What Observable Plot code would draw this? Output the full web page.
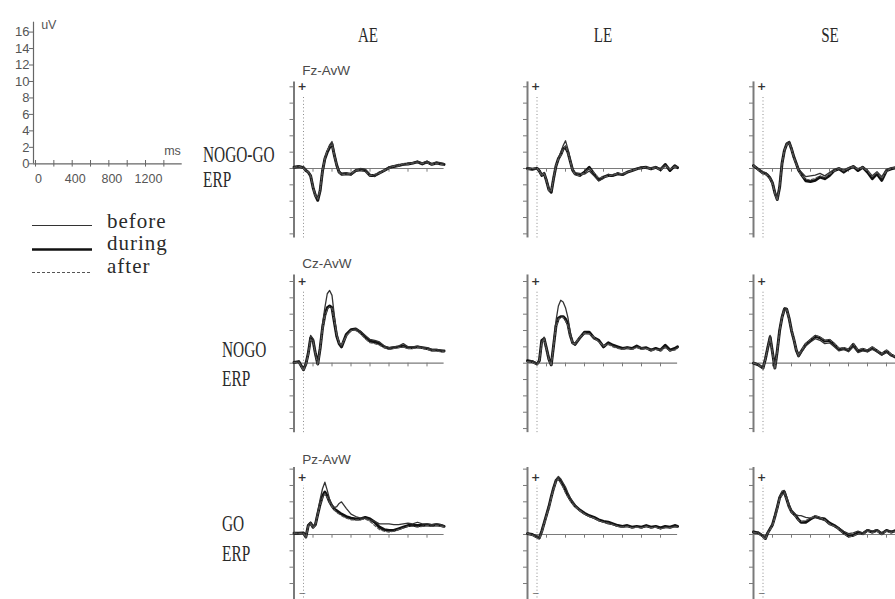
<!DOCTYPE html>
<html>
<head>
<meta charset="utf-8">
<script src="https://cdn.jsdelivr.net/npm/d3@7"></script>
<script src="https://cdn.jsdelivr.net/npm/@observablehq/plot@0.6"></script>
<style>
  html, body { margin: 0; padding: 0; background: #fff; }
  #page { position: relative; width: 895px; height: 599px; overflow: hidden; background: #fff; }
  .lbl { position: absolute; font-family: "Liberation Serif", "Times New Roman", serif; color: #2a2a2a; white-space: nowrap; }
</style>
</head>
<body>
<div id="page"></div>
<script>
// ---- sampling times (ms after stimulus onset) ----
const times = [-100,-50,0,25,50,75,100,125,150,175,200,225,250,275,300,325,350,375,400,
  450,500,550,600,650,700,750,800,850,900,950,1000,1050,1100,1150,1200,1250,1300,1350,1400,1450,1480];

// ---- NOGO-GO difference waves at Fz (uV) ----
const fzAeBefore = [0.2,0.1,0.2,-0.1,-0.5,-1.0,-2.1,-3.1,-3.8,-2.9,-0.5,1.0,2.1,2.9,3.3,1.9,0.5,-0.3,-0.6,-0.5,-0.8,-0.3,0.0,-0.1,-0.7,-1.0,-0.4,-0.3,0.2,0.3,0.5,0.4,0.7,0.6,0.9,0.7,0.9,0.6,0.8,0.7,0.6];
const fzAeDuring = [0.15,0.25,0.1,-0.25,-0.45,-0.9,-2.3,-3.3,-3.9,-2.7,-0.3,1.2,2.0,2.6,3.0,1.6,0.4,-0.45,-0.7,-0.65,-0.7,-0.25,-0.15,-0.25,-0.85,-0.85,-0.55,-0.25,0.1,0.25,0.35,0.5,0.55,0.65,0.8,0.55,0.8,0.5,0.65,0.55,0.5];
const fzAeAfter  = [0.1,0.3,0.0,-0.3,-0.4,-0.8,-2.4,-3.4,-3.7,-2.5,-0.2,1.3,2.2,2.7,2.9,1.5,0.3,-0.5,-0.8,-0.7,-0.6,-0.2,-0.2,-0.4,-0.9,-0.7,-0.6,-0.2,0.0,0.3,0.3,0.6,0.5,0.7,0.7,0.6,0.7,0.5,0.6,0.5,0.4];

const fzLeBefore = [0.1,0.0,-0.1,-0.2,-0.7,-0.7,-1.3,-2.4,-2.8,-1.4,0.2,1.3,2.0,2.8,3.4,2.4,1.1,0.0,-0.5,-0.6,-0.7,-0.3,-0.9,-1.5,-1.2,-0.7,-0.9,-0.5,-0.8,-0.4,-0.3,0.0,0.2,0.0,0.1,0.2,0.0,0.4,-0.1,0.3,0.2];
const fzLeDuring = [0.0,-0.1,0.05,-0.3,-0.85,-0.6,-1.5,-2.6,-2.9,-1.2,0.3,1.2,1.7,2.4,2.6,2.0,0.9,-0.2,-0.65,-0.85,-0.45,0.15,-0.65,-1.4,-1.05,-0.85,-0.85,-0.65,-0.75,-0.45,-0.25,-0.05,0.1,0.15,-0.05,0.15,-0.15,0.5,-0.25,0.35,0.1];
const fzLeAfter  = [-0.1,0.0,0.1,-0.4,-0.9,-0.5,-1.6,-2.7,-2.8,-1.1,0.4,1.1,1.6,2.3,2.8,1.9,0.8,-0.3,-0.7,-0.9,-0.5,0.0,-0.5,-1.2,-1.0,-1.0,-0.7,-0.7,-0.6,-0.5,-0.2,-0.1,0.0,0.2,-0.1,0.1,-0.2,0.3,-0.1,0.2,0.0];

const fzSeBefore = [0.3,0.0,-0.4,-0.5,-0.7,-1.0,-1.6,-2.8,-3.6,-2.4,0.4,2.0,3.1,3.3,2.6,1.5,0.7,0.0,-0.4,-1.0,-0.9,-0.8,-0.6,-0.9,-0.5,-0.1,0.1,-0.2,0.1,0.3,0.0,0.2,-0.2,-0.9,-0.4,-1.0,-0.1,0.1,0.2,0.1,0.3];
const fzSeDuring = [0.35,-0.1,-0.55,-0.6,-0.85,-1.2,-1.8,-3.0,-3.8,-2.3,0.6,2.2,3.0,3.2,2.4,1.4,0.6,-0.2,-0.65,-1.5,-1.6,-1.45,-1.05,-1.25,-0.85,-0.25,-0.05,-0.45,-0.05,0.25,-0.25,0.15,-0.45,-1.25,-0.65,-1.45,-0.25,-0.05,0.1,0.0,0.2];
const fzSeAfter  = [0.4,-0.2,-0.6,-0.7,-0.9,-1.3,-1.9,-3.1,-3.9,-2.2,0.7,2.3,2.9,3.1,2.3,1.3,0.5,-0.3,-0.8,-1.3,-1.4,-1.2,-0.9,-1.1,-0.7,-0.3,0.0,-0.3,0.0,0.2,-0.1,0.1,-0.3,-1.0,-0.5,-1.2,-0.3,0.0,0.1,-0.1,0.1];

// ---- NOGO ERPs at Cz (uV) ----
const czAeBefore = [0.0,0.2,-0.7,0.0,1.3,3.4,3.0,1.3,0.0,1.9,4.8,6.8,8.5,8.9,8.3,5.8,3.6,2.5,2.1,3.4,4.0,4.2,3.9,3.4,2.9,2.8,2.6,2.1,1.9,2.0,2.1,2.4,2.0,2.0,2.1,1.9,1.9,1.7,1.7,1.6,1.5];
const czAeDuring = [0.1,0.2,-0.8,-0.1,1.2,3.1,2.8,1.2,-0.1,1.8,4.3,5.9,6.8,7.0,6.8,5.0,3.3,2.4,2.0,3.5,4.1,4.2,3.8,3.2,2.7,2.6,2.4,2.0,1.8,1.9,2.0,2.1,1.9,1.9,2.0,1.9,1.8,1.6,1.6,1.5,1.5];
const czAeAfter  = [0.1,0.1,-0.9,-0.2,1.0,2.9,2.7,1.1,-0.2,1.7,4.1,5.7,6.6,6.9,6.7,5.1,3.4,2.5,2.2,3.3,4.0,4.0,3.6,3.0,2.5,2.4,2.2,1.9,1.7,1.8,1.9,2.0,1.8,1.8,1.9,1.8,1.7,1.5,1.5,1.4,1.4];

const czLeBefore = [0.2,0.3,0.0,0.4,2.6,3.2,1.9,0.6,-0.1,2.4,5.2,7.0,7.7,7.5,6.8,5.6,3.8,2.6,2.2,3.0,3.6,3.6,3.0,2.7,2.1,2.4,2.1,1.9,1.7,2.0,1.7,2.0,1.9,1.8,1.7,1.7,1.7,2.0,1.5,1.7,1.9];
const czLeDuring = [0.3,0.2,-0.1,0.3,2.8,3.0,1.8,0.5,-0.2,2.2,4.6,5.5,5.7,5.7,5.4,4.8,3.4,2.5,2.3,3.1,3.8,3.8,3.1,2.8,2.0,2.5,2.2,2.0,1.8,1.9,1.8,2.1,1.8,1.9,1.6,1.8,1.6,2.2,1.6,1.8,2.0];
const czLeAfter  = [0.2,0.1,-0.2,0.2,2.5,2.9,1.7,0.4,-0.3,2.1,4.4,5.4,5.6,5.6,5.2,4.6,3.3,2.4,2.4,3.2,3.7,3.6,3.2,2.6,2.1,2.3,2.0,1.8,1.7,1.8,1.7,1.9,1.7,1.8,1.5,1.7,1.5,1.9,1.5,1.6,1.8];

const czSeBefore = [0.1,-0.1,-0.5,0.6,2.0,3.4,1.4,-0.5,1.6,4.1,5.8,6.8,6.7,5.6,3.9,2.7,1.5,0.8,1.3,2.1,2.6,3.0,2.8,2.4,2.5,2.0,1.5,1.7,1.4,2.0,1.3,1.5,1.4,1.7,1.4,1.0,1.3,0.9,0.8,0.9,0.9];
const czSeDuring = [0.0,-0.2,-0.6,0.5,1.9,3.2,1.3,-0.6,1.5,4.0,5.6,6.6,6.6,5.5,4.0,2.9,1.6,0.9,1.4,2.3,2.8,3.3,3.1,2.7,2.8,2.3,1.7,1.8,1.6,2.3,1.5,1.7,1.5,1.9,1.5,1.1,1.5,1.0,0.7,0.9,0.8];
const czSeAfter  = [0.0,-0.2,-0.7,0.4,1.8,3.1,1.2,-0.7,1.4,3.9,5.5,6.5,6.5,5.4,4.1,3.0,1.7,1.0,1.5,2.4,2.9,3.4,3.2,2.8,2.9,2.4,1.8,1.9,1.7,2.4,1.6,1.8,1.6,2.0,1.6,1.2,1.6,1.1,0.8,1.0,0.9];

// ---- GO ERPs at Pz (uV) ----
const pzAeBefore = [0.1,0.2,0.1,-0.2,1.2,1.5,1.0,1.4,2.8,4.3,5.6,6.4,5.4,4.3,3.6,3.3,3.4,3.8,4.0,3.2,2.5,2.2,2.0,2.0,1.8,1.6,1.3,1.3,1.3,1.2,1.2,1.3,1.4,1.3,1.5,1.3,1.3,1.2,1.3,1.2,1.0];
const pzAeDuring = [0.15,0.15,0.2,-0.3,1.1,1.4,0.9,1.2,2.5,3.7,4.7,5.2,4.7,4.0,3.5,3.1,2.9,2.7,2.5,2.2,2.0,1.9,1.9,2.1,1.9,1.5,0.9,0.6,0.5,0.5,0.7,0.9,1.1,1.1,1.1,1.1,1.2,1.1,1.2,1.1,1.0];
const pzAeAfter  = [0.2,0.1,0.2,-0.4,1.0,1.3,0.8,1.1,2.4,3.6,4.5,5.0,4.6,3.9,3.4,3.0,2.7,2.5,2.3,2.0,1.8,1.8,1.8,1.9,1.6,1.1,0.6,0.4,0.3,0.4,0.6,0.8,1.0,1.0,0.9,1.0,1.1,1.0,1.1,1.0,0.9];

const pzLeBefore = [0.2,0.0,-0.2,-0.3,0.5,1.5,2.5,3.5,4.7,5.8,6.7,7.1,6.8,6.3,5.8,5.1,4.5,4.0,3.6,3.0,2.5,2.2,2.0,1.7,1.5,1.3,1.2,1.0,0.9,1.0,0.8,0.9,0.8,1.0,0.8,0.9,0.7,0.9,0.8,1.0,0.9];
const pzLeDuring = [0.1,0.0,-0.3,-0.4,0.4,1.4,2.4,3.4,4.6,5.7,6.6,6.9,6.5,6.0,5.4,4.8,4.3,3.9,3.5,3.0,2.6,2.3,2.1,1.8,1.6,1.5,1.3,1.1,1.0,1.1,0.9,1.0,0.9,1.1,0.9,1.0,0.8,1.0,0.9,1.1,1.0];
const pzLeAfter  = [0.1,-0.1,-0.4,-0.6,0.2,1.2,2.2,3.2,4.4,5.5,6.4,6.8,6.3,5.8,5.1,4.6,4.1,3.7,3.4,2.9,2.5,2.2,2.0,1.7,1.5,1.4,1.2,1.0,0.9,1.0,0.8,0.9,0.8,1.0,0.8,0.9,0.7,0.8,0.8,0.9,0.9];

const pzSeBefore = [0.2,0.3,-0.1,-0.3,0.3,0.8,1.3,2.4,3.5,4.7,5.3,5.4,4.6,3.7,3.0,2.7,2.4,2.3,2.3,2.1,2.0,2.1,1.9,1.7,1.2,1.0,0.8,0.4,0.1,0.2,0.4,0.2,0.6,0.4,0.6,0.2,0.5,0.4,0.4,0.5,0.4];
const pzSeDuring = [0.3,0.2,-0.2,-0.5,0.2,0.7,1.2,2.2,3.3,4.5,5.0,5.2,4.3,3.4,2.8,2.5,2.2,1.8,1.5,1.5,1.9,2.2,2.0,1.9,1.4,1.1,0.7,0.2,-0.2,-0.1,0.2,0.1,0.5,0.3,0.5,0.1,0.5,0.3,0.5,0.4,0.5];
const pzSeAfter  = [0.3,0.1,-0.3,-0.6,0.1,0.6,1.0,2.0,3.1,4.3,4.9,5.1,4.2,3.3,2.7,2.4,2.1,1.7,1.6,1.7,2.0,2.3,2.1,1.8,1.3,1.0,0.6,0.1,-0.3,-0.2,0.1,0.0,0.4,0.2,0.4,0.0,0.4,0.2,0.4,0.3,0.4];

// ---- categories and tick labels ----
const groups = ["AE", "LE", "SE"];
const conditions = ["before", "during", "after"];
const channelLabels = ["Fz-AvW", "Cz-AvW", "Pz-AvW"];
const rowTitles = [["NOGO-GO", "ERP"], ["NOGO", "ERP"], ["GO", "ERP"]];
const epochTicks = [100, 300, 500, 700, 900, 1100, 1300];
const scaleMsTicks = [0, 200, 400, 600, 800, 1000, 1200, 1400];
const scaleMsLabels = [0, 400, 800, 1200];
const scaleUvTicks = [0, 2, 4, 6, 8, 10, 12, 14, 16];

// waveform lookup: row -> column -> condition
const waves = [
  [{before: fzAeBefore, during: fzAeDuring, after: fzAeAfter},
   {before: fzLeBefore, during: fzLeDuring, after: fzLeAfter},
   {before: fzSeBefore, during: fzSeDuring, after: fzSeAfter}],
  [{before: czAeBefore, during: czAeDuring, after: czAeAfter},
   {before: czLeBefore, during: czLeDuring, after: czLeAfter},
   {before: czSeBefore, during: czSeDuring, after: czSeAfter}],
  [{before: pzAeBefore, during: pzAeDuring, after: pzAeAfter},
   {before: pzLeBefore, during: pzLeDuring, after: pzLeAfter},
   {before: pzSeBefore, during: pzSeDuring, after: pzSeAfter}]
];

// ---- layout ----
const W = 895, H = 599;
const page = document.getElementById("page");
const layer = "position:absolute;left:0;top:0;background:none;overflow:hidden;max-width:none;";
const tStart = -100, tEnd = 1480;
const pxPerMs = 0.095, pxPerUv = 8.17;
const colAxisX = [293.5, 527, 753];
const rowsCfg = [
  {zeroY: 168,   lo: -8.5, hi: 10.6, dotTop: 8.7, plusY: 10.0, labelY: 12.0, ticks: d3.range(-8, 11, 2), minus: false},
  {zeroY: 362.7, lo: -8.5, hi: 10.8, dotTop: 8.9, plusY: 10.0, labelY: 12.2, ticks: d3.range(-8, 11, 2), minus: false},
  {zeroY: 534,   lo: -8.6, hi: 8.2,  dotTop: 6.0, plusY: 7.0,  labelY: 9.1,  ticks: d3.range(-8, 9, 2),  minus: true}
];
const axisGray = "#7a7a7a";
const styleOf = {
  before: {stroke: "#333", strokeWidth: 1.3},
  during: {stroke: "#111", strokeWidth: 2.9},
  after:  {stroke: "#555", strokeWidth: 1.2, strokeDasharray: "3,2"}
};
const drawOrder = ["during", "before", "after"];

function panel(r, c) {
  const row = rowsCfg[r];
  const x0 = colAxisX[c];
  const set = waves[r][c];
  const lines = drawOrder.map(cond =>
    Plot.line(times.map((t, i) => ({t, v: set[cond][i]})), {
      x: "t", y: "v", strokeLinejoin: "round", strokeLinecap: "round", ...styleOf[cond]
    })
  );
  const marks = [
    Plot.ruleY([0], {x1: tStart, x2: tEnd, stroke: axisGray, strokeWidth: 1.2}),
    Plot.ruleX(epochTicks, {y1: 0, y2: -0.45, stroke: axisGray, strokeWidth: 1}),
    Plot.ruleX([tStart], {y1: row.lo, y2: row.hi, stroke: axisGray, strokeWidth: 2}),
    Plot.ruleY(row.ticks, {x1: tStart - 4 / pxPerMs, x2: tStart, stroke: axisGray, strokeWidth: 1}),
    Plot.ruleX([0], {y1: row.lo, y2: row.dotTop, stroke: "#8a8a8a", strokeWidth: 1, strokeDasharray: "1,2.4"}),
    Plot.text(["+"], {x: -14, y: row.plusY, fontSize: 11, fontWeight: "bold", fill: "#333", fontFamily: "DejaVu Sans"}),
    ...lines
  ];
  if (row.minus) {
    marks.push(Plot.text(["\u2212"], {x: -12, y: -7.2, fontSize: 9, fill: "#666", fontFamily: "DejaVu Sans"}));
  }
  if (c === 0) {
    marks.push(Plot.text([channelLabels[r]], {
      x: -14, y: row.labelY, textAnchor: "start", fontSize: 13.5, fill: "#4a4a4a",
      fontFamily: "Liberation Sans, Arial, sans-serif"
    }));
  }
  return Plot.plot({
    width: W, height: H, margin: 0,
    x: {domain: [tStart, tEnd], range: [x0, x0 + (tEnd - tStart) * pxPerMs], axis: null},
    y: {domain: [row.lo, row.hi], range: [row.zeroY - row.lo * pxPerUv, row.zeroY - row.hi * pxPerUv], axis: null},
    style: layer,
    marks
  });
}

for (let r = 0; r < 3; r++) for (let c = 0; c < 3; c++) page.appendChild(panel(r, c));

// ---- calibration scale (top left) ----
const scaleX0 = -22;
const scalePxPerMs = (181.7 - 33) / (1600 - scaleX0);
page.appendChild(Plot.plot({
  width: W, height: H, margin: 0,
  x: {domain: [scaleX0, 1600], range: [33, 181.7], axis: null},
  y: {domain: [0, 17.2], range: [163.3, 21.7], axis: null},
  style: layer,
  marks: [
    Plot.ruleX([scaleX0], {y1: 0, y2: 17.2, stroke: "#666", strokeWidth: 1.2}),
    Plot.ruleY([0], {x1: scaleX0, x2: 1600, stroke: "#666", strokeWidth: 1.2}),
    Plot.ruleX(scaleMsTicks, {y1: -0.4, y2: 0.4, stroke: "#666"}),
    Plot.ruleY(scaleUvTicks, {x1: scaleX0 - 4 / scalePxPerMs, x2: scaleX0, stroke: "#666"}),
    Plot.text(scaleUvTicks, {x: scaleX0 - 4 / scalePxPerMs, y: d => d, text: d => String(d), textAnchor: "end", dx: 0,
      fontSize: 13, fill: "#555", fontFamily: "Liberation Sans, Arial, sans-serif"}),
    Plot.text(scaleMsLabels, {x: d => d, y: -1.8, text: d => String(d), dx: 3,
      fontSize: 12.5, fill: "#555", fontFamily: "Liberation Sans, Arial, sans-serif"}),
    Plot.text(["uV"], {x: 145, y: 16.8, fontSize: 12.5, fill: "#555", fontFamily: "Liberation Sans, Arial, sans-serif"}),
    Plot.text(["ms"], {x: 1494, y: 1.5, fontSize: 12.5, fill: "#555", fontFamily: "Liberation Sans, Arial, sans-serif"})
  ]
}));

// ---- line-style legend swatches ----
const legendRowY = [225, 249, 272];
page.appendChild(Plot.plot({
  width: W, height: H, margin: 0,
  x: {domain: [0, W], range: [0, W], axis: null},
  y: {domain: [0, H], range: [0, H], axis: null},
  style: layer,
  marks: conditions.map((cond, i) =>
    Plot.ruleY([legendRowY[i]], {x1: 32, x2: 92, ...styleOf[cond],
      strokeWidth: cond === "during" ? 2.4 : 1.1})
  )
}));

// ---- serif text labels ----
function label(text, x, baseline, size, sx, centered, spacing) {
  const d = document.createElement("div");
  d.className = "lbl";
  d.textContent = text;
  d.style.fontSize = size + "px";
  d.style.lineHeight = size + "px";
  d.style.left = x + "px";
  d.style.top = (baseline - 0.8375 * size) + "px";
  if (spacing) d.style.letterSpacing = spacing + "px";
  if (centered) {
    d.style.transformOrigin = "50% 50%";
    d.style.transform = `translateX(-50%) scaleX(${sx})`;
  } else {
    d.style.transformOrigin = "0 0";
    d.style.transform = `scaleX(${sx})`;
  }
  page.appendChild(d);
}
const titleCenters = [368, 603, 830];
groups.forEach((g, i) => label(g, titleCenters[i], 43, 21, 0.72, true));

const rowTitleX = [203.3, 221.7, 221.7];
const rowTitleBase = [[161.7, 186.7], [356.7, 386], [531, 561]];
rowTitles.forEach((lines, r) => lines.forEach((t, j) => label(t, rowTitleX[r], rowTitleBase[r][j], 24, 0.64, false)));

const legendTextBase = [228.3, 250.7, 274];
conditions.forEach((cond, i) => label(cond, 107, legendTextBase[i], 21, 1, false, 1));
</script>
</body>
</html>
